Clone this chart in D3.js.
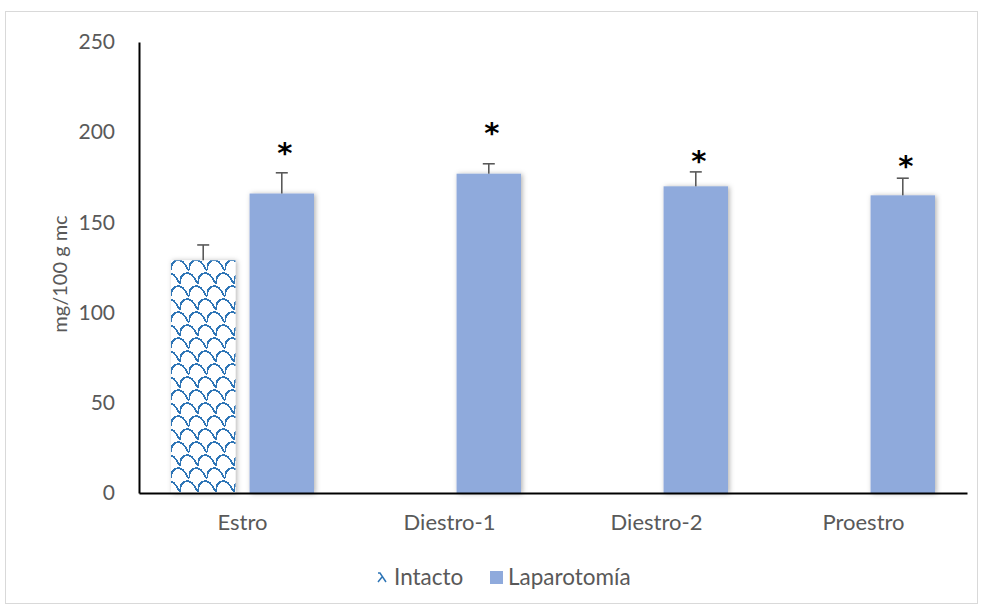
<!DOCTYPE html>
<html>
<head>
<meta charset="utf-8">
<script src="https://cdn.jsdelivr.net/npm/d3@7/dist/d3.min.js"></script>
<style>
  html, body { margin: 0; padding: 0; background: #fff; }
  svg { display: block; font-family: Lato, "Open Sans", sans-serif; }
</style>
</head>
<body>
<svg id="chart" width="981" height="608"></svg>
<script>
// Phases of the estrous cycle
const phases = ["Estro", "Diestro-1", "Diestro-2", "Proestro"];
const groups = ["Intacto", "Laparotomía"];
// Means (mg/100 g mc); intact animals were only measured in estrus
const intacto = [129, null, null, null];
const laparotomia = [166, 177, 170, 165];
// Upper error (SEM)
const intactoErr = [8.5, null, null, null];
const laparotomiaErr = [11.5, 5.5, 8, 9.5];
// Significance marks (height on the value axis)
const starLevel = [192, 203, 187.5, 184.5];
const yTicks = [0, 50, 100, 150, 200, 250];

const svg = d3.select("#chart");
const textColor = "#595959";
const lapColor = "#8faadc";
const patColor = "#2e75b6";

const defs = svg.append("defs");

// Scale-like fill used for the intact group (pattern space is the bar's local space)
const pat = defs.append("pattern")
  .attr("id", "scales")
  .attr("patternUnits", "userSpaceOnUse")
  .attr("width", 18).attr("height", 26)
  .attr("x", 32).attr("y", 258);
pat.append("rect").attr("width", 18).attr("height", 26).attr("fill", "#fff");
pat.append("path")
  .attr("d", "M0,12 L1,6 L4,3 L8,2 L12,4 L15,8 L18,13 " +
             "M-9,25 L-8,19 L-5,16 L-1,15 L3,17 L6,21 L9,26 " +
             "M9,25 L10,19 L13,16 L17,15 L21,17 L24,21 L27,26")
  .attr("fill", "none")
  .attr("stroke", patColor)
  .attr("stroke-width", 1.7)
  .attr("shape-rendering", "crispEdges");

// Single tile for the legend key
const lpat = defs.append("pattern")
  .attr("id", "scalesSmall")
  .attr("patternUnits", "userSpaceOnUse")
  .attr("width", 10).attr("height", 13)
  .attr("x", 0).attr("y", 0);
lpat.append("rect").attr("width", 10).attr("height", 13).attr("fill", "#fff");
lpat.append("path")
  .attr("d", "M1,2 L3,2 L9,11 M5,6 L1,11")
  .attr("fill", "none").attr("stroke", patColor).attr("stroke-width", 1.5);

const shadow = defs.append("filter")
  .attr("id", "shadow")
  .attr("x", "-30%").attr("y", "-10%").attr("width", "160%").attr("height", "120%");
shadow.append("feDropShadow")
  .attr("dx", 1.5).attr("dy", 0.5)
  .attr("stdDeviation", 2.5)
  .attr("flood-color", "#000")
  .attr("flood-opacity", 0.3);

// Chart frame
svg.append("rect")
  .attr("x", 5.5).attr("y", 11.5)
  .attr("width", 972).attr("height", 592)
  .attr("fill", "none").attr("stroke", "#d9d9d9").attr("stroke-width", 1);

const x0 = d3.scaleBand().domain(phases).range([139, 967]).padding(0);
const x1 = d3.scaleBand().domain(groups).range([32, 175]).paddingInner(0.18);
const y = d3.scaleLinear().domain([0, 250]).range([493, 42]);

const rows = phases.map((p, i) => ({
  phase: p,
  bars: [
    { group: "Intacto", value: intacto[i], err: intactoErr[i] },
    { group: "Laparotomía", value: laparotomia[i], err: laparotomiaErr[i] }
  ].filter(b => b.value != null),
  star: starLevel[i]
}));

const g = svg.append("g");
const cat = g.selectAll("g.cat").data(rows).join("g")
  .attr("class", "cat")
  .attr("transform", d => `translate(${x0(d.phase)},0)`);

// Bars
cat.selectAll("rect.bar").data(d => d.bars).join("rect")
  .attr("class", "bar")
  .attr("x", d => x1(d.group))
  .attr("width", x1.bandwidth())
  .attr("y", d => y(d.value))
  .attr("height", d => y(0) - y(d.value))
  .attr("fill", d => d.group === "Intacto" ? "url(#scales)" : lapColor)
  .attr("filter", "url(#shadow)");

// Upper error bars
const eb = cat.selectAll("g.err").data(d => d.bars).join("g").attr("class", "err")
  .attr("stroke", textColor).attr("stroke-width", 1.6);
eb.append("line")
  .attr("x1", d => x1(d.group) + x1.bandwidth() / 2)
  .attr("x2", d => x1(d.group) + x1.bandwidth() / 2)
  .attr("y1", d => y(d.value))
  .attr("y2", d => y(d.value + d.err));
eb.append("line")
  .attr("x1", d => x1(d.group) + x1.bandwidth() / 2 - 6)
  .attr("x2", d => x1(d.group) + x1.bandwidth() / 2 + 6)
  .attr("y1", d => y(d.value + d.err))
  .attr("y2", d => y(d.value + d.err));

// Significance asterisks over the laparotomy bars
cat.append("text")
  .attr("x", d => x1("Laparotomía") + x1.bandwidth() / 2 + 3)
  .attr("y", d => y(d.star) + 16)
  .attr("text-anchor", "middle")
  .attr("font-family", "'DejaVu Sans', sans-serif")
  .attr("font-weight", "bold")
  .attr("font-size", 29)
  .attr("fill", "#000")
  .text("*");

// Axes
const yAxis = g.append("g")
  .attr("transform", "translate(139,0)")
  .call(d3.axisLeft(y).tickValues(yTicks).tickSize(0).tickPadding(24));
yAxis.select(".domain").attr("stroke", "#000").attr("stroke-width", 2);
yAxis.selectAll("text").attr("font-size", 21).attr("fill", textColor)
  .attr("font-family", "Lato, sans-serif");

const xAxis = g.append("g")
  .attr("transform", "translate(0,493)")
  .call(d3.axisBottom(x0).tickSize(0).tickPadding(21));
xAxis.select(".domain").attr("stroke", "#000").attr("stroke-width", 2);
xAxis.selectAll("text").attr("font-size", 22).attr("fill", textColor)
  .attr("font-family", "Lato, sans-serif");

// Y axis title
svg.append("text")
  .attr("transform", "translate(67,274) rotate(-90)")
  .attr("text-anchor", "middle")
  .attr("font-size", 20)
  .attr("fill", textColor)
  .text("mg/100 g mc");

// Legend
const legend = svg.append("g");
const legendItems = [
  { group: "Intacto", x: 377, fill: "url(#scalesSmall)" },
  { group: "Laparotomía", x: 490, fill: lapColor }
];
const li = legend.selectAll("g").data(legendItems).join("g")
  .attr("transform", d => `translate(${d.x},571)`);
li.append("rect").attr("width", d => d.group === "Intacto" ? 10 : 13)
  .attr("height", 13).attr("fill", d => d.fill);
li.append("text")
  .attr("x", d => d.group === "Intacto" ? 17 : 18)
  .attr("y", 14)
  .attr("font-size", 22.5)
  .attr("fill", textColor)
  .text(d => d.group);
</script>
</body>
</html>
